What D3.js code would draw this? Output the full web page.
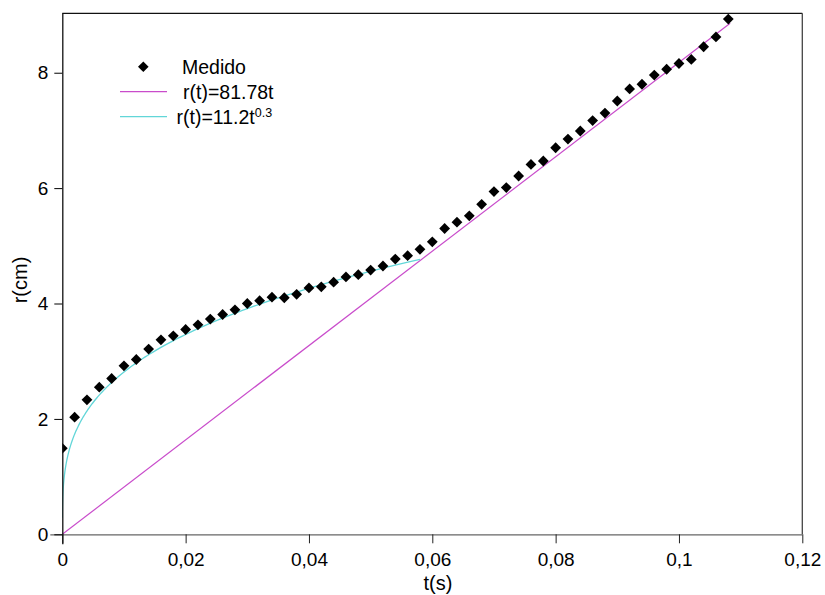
<!DOCTYPE html>
<html><head><meta charset="utf-8">
<script src="https://cdn.jsdelivr.net/npm/d3@7"></script>
<style>body{margin:0;background:#fff}svg{display:block}text{font-family:"Liberation Sans",Arial,Helvetica,sans-serif;fill:#000}</style>
</head><body>
<script>
const tValues = [0,0.002,0.004,0.006,0.008,0.010,0.012,0.014,0.016,0.018,0.020,0.022,0.024,0.026,0.028,0.030,0.032,0.034,0.036,0.038,0.040,0.042,0.044,0.046,0.048,0.050,0.052,0.054,0.056,0.058,0.060,0.062,0.064,0.066,0.068,0.070,0.072,0.074,0.076,0.078,0.080,0.082,0.084,0.086,0.088,0.090,0.092,0.094,0.096,0.098,0.100,0.102,0.104,0.106,0.108];
const rMeasured = [1.49,2.03,2.33,2.55,2.70,2.92,3.03,3.21,3.37,3.44,3.55,3.63,3.73,3.81,3.89,4.00,4.05,4.11,4.10,4.16,4.27,4.29,4.37,4.46,4.50,4.58,4.65,4.77,4.83,4.94,5.07,5.30,5.41,5.52,5.72,5.94,6.01,6.21,6.41,6.47,6.70,6.85,6.99,7.17,7.30,7.51,7.72,7.80,7.96,8.06,8.16,8.23,8.45,8.62,8.93];
const xTicks = [0,0.02,0.04,0.06,0.08,0.1,0.12];
const xTickLabels = ["0","0,02","0,04","0,06","0,08","0,1","0,12"];
const yTicks = [0,2,4,6,8];
const linearFit = {k:81.78, tStart:0, tEnd:0.1083};
const powerFit = {a:11.2, b:0.3, tStart:5e-6, tEnd:0.058};
const legendLabels = ["Medido","r(t)=81.78t","r(t)=11.2t"];

const W=825,H=595;
const L=62.3,R=802.3,T=13.3,B=534.3;
const svg=d3.select("body").append("svg").attr("width",W).attr("height",H);
const x=d3.scaleLinear().domain([0,0.12]).range([L,R]);
const y=d3.scaleLinear().domain([0,9.03]).range([B,T]);

svg.append("clipPath").attr("id","clip").append("rect").attr("x",L).attr("y",T).attr("width",R-L).attr("height",B-T);

// frame
svg.append("line").attr("x1",L).attr("x2",R).attr("y1",T).attr("y2",T).attr("stroke","#111").attr("stroke-width",1.3);
svg.append("line").attr("x1",R).attr("x2",R).attr("y1",T).attr("y2",B).attr("stroke","#444").attr("stroke-width",1.3);

// fits
const lineGen=d3.line().x(d=>x(d[0])).y(d=>y(d[1]));
const linPts=[[linearFit.tStart,linearFit.k*linearFit.tStart],[linearFit.tEnd,linearFit.k*linearFit.tEnd]];
const g=svg.append("g").attr("clip-path","url(#clip)");
g.append("path").attr("d",lineGen(linPts)).attr("fill","none").attr("stroke","#c94ccb").attr("stroke-width",1.2);
const powPts=d3.range(0,301).map(i=>{const t=Math.exp(Math.log(powerFit.tStart)+(Math.log(powerFit.tEnd)-Math.log(powerFit.tStart))*i/300);return [t,powerFit.a*Math.pow(t,powerFit.b)];});
g.append("path").attr("d",lineGen(powPts)).attr("fill","none").attr("stroke","#62d6d8").attr("stroke-width",1.3);

// data
const dia=s=>`M0,${-s}L${s},0L0,${s}L${-s},0Z`;
g.selectAll("path.pt").data(tValues).join("path").attr("class","pt")
 .attr("d",dia(5.4)).attr("transform",(d,i)=>`translate(${x(d)},${y(rMeasured[i])})`).attr("fill","#000");

// axes
const xa=svg.append("g").attr("transform",`translate(0,${B})`)
 .call(d3.axisBottom(x).tickValues(xTicks).tickFormat((d,i)=>xTickLabels[i]).tickSize(9).tickPadding(6));
xa.select(".domain").attr("stroke","#666").attr("stroke-width",1.3).attr("d",`M${L-12},0.5H${R}`);
xa.selectAll(".tick line").attr("stroke","#222");
xa.selectAll("text").style("font-size","19px").attr("dy","0.9em");
const ya=svg.append("g").attr("transform",`translate(${L},0)`)
 .call(d3.axisLeft(y).tickValues(yTicks).tickFormat(d=>d).tickSize(8).tickPadding(6));
ya.select(".domain").attr("stroke","#111").attr("stroke-width",1.3).attr("d",`M0.5,${T}V${B+10}`);
ya.selectAll("text").style("font-size","19px");

svg.append("text").attr("x",438).attr("y",590).attr("text-anchor","middle").style("font-size","20px").text("t(s)");
svg.append("text").attr("transform","translate(27,280) rotate(-90)").attr("text-anchor","middle").style("font-size","20px").text("r(cm)");

// legend
svg.append("path").attr("d",dia(5.3)).attr("transform","translate(143.3,66.7)").attr("fill","#000");
svg.append("text").attr("x",182).attr("y",74).style("font-size","19.5px").text(legendLabels[0]);
svg.append("line").attr("x1",120).attr("x2",167).attr("y1",91.7).attr("y2",91.7).attr("stroke","#c94ccb").attr("stroke-width",1.3);
svg.append("text").attr("x",183).attr("y",98.5).style("font-size","19.5px").text(legendLabels[1]);
svg.append("line").attr("x1",120).attr("x2",167).attr("y1",116.7).attr("y2",116.7).attr("stroke","#62d6d8").attr("stroke-width",1.3);
const t3=svg.append("text").attr("x",176.5).attr("y",123.5).style("font-size","19.5px").text(legendLabels[2]);
t3.append("tspan").attr("dy","-0.5em").style("font-size","12.5px").text(powerFit.b);
</script>
</body></html>
